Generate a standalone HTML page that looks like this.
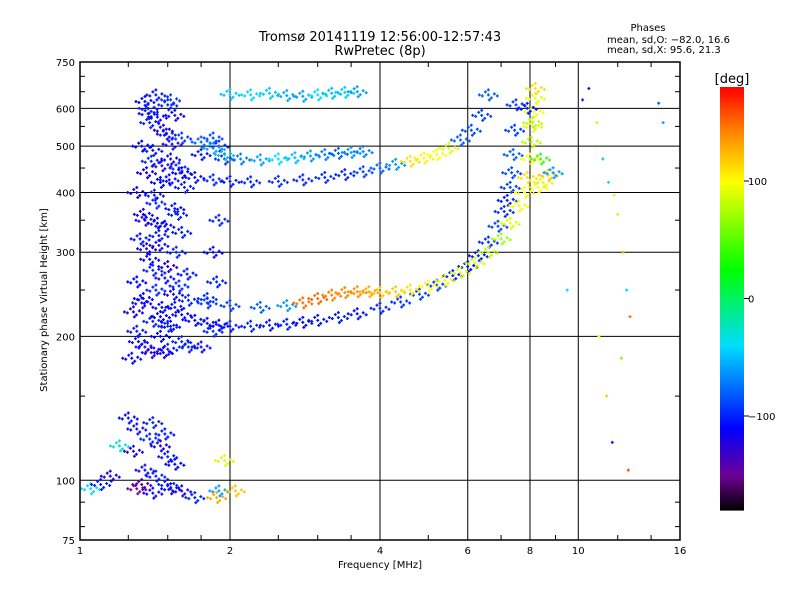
<!DOCTYPE html>
<html><head><meta charset="utf-8"><style>
body{margin:0;background:#fff;}
svg{display:block;font-family:"DejaVu Sans","Liberation Sans",sans-serif;}
</style></head><body>
<svg id="chart" width="800" height="600" viewBox="0 0 800 600">
<rect width="800" height="600" fill="#fff"/>
<text x="380" y="41" text-anchor="middle" font-size="13">Tromsø 20141119 12:56:00-12:57:43</text>
<text x="380" y="55" text-anchor="middle" font-size="13">RwPretec (8p)</text>
<text x="648" y="31" text-anchor="middle" font-size="10">Phases</text>
<text x="607" y="43" font-size="10">mean, sd,O: −82.0, 16.6</text>
<text x="607" y="53" font-size="10">mean, sd,X:  95.6, 21.3</text>
<text x="380" y="568" text-anchor="middle" font-size="10">Frequency [MHz]</text>
<text transform="translate(47,300) rotate(-90)" text-anchor="middle" font-size="10">Stationary phase Virtual Height [km]</text>
<text x="732" y="83" text-anchor="middle" font-size="13">[deg]</text>
<g id="grid"></g><g id="marks"></g><g id="axes"></g><g id="cbar"></g>
</svg>
<script>
// ---- chart data ----
const xTicks = [1, 2, 4, 6, 8, 10, 16];
const yTicks = [75, 100, 200, 300, 400, 500, 600, 750];
const cbarTicks = [100, 0, -100];
const freqMHz = [
1.35,1.42,1.5,1.55,1.38,1.47,1.6,1.33,1.4,1.52,1.58,1.36,1.45,1.62,1.3,1.42,1.55,1.35,1.48,1.6,1.32,1.44,1.56,1.38,1.5,1.64,1.3,1.42,1.54,1.34,1.46,1.28,1.4,1.52,1.3,1.45,1.6,1.35,1.5,1.65,1.75,1.27,1.85,1.8,1.88,1.85,1.9,1.75,1.85,1.9,1.95,
1.37,1.43,1.49,1.53,1.39,1.46,1.41,1.51,1.34,1.57,1.44,1.36,1.48,1.4,1.33,1.55,1.45,1.5,1.39,1.47,1.31,1.43,1.58,1.37,1.52,
1.6,1.7,1.8,1.9,2.0,2.2,2.4,2.6,2.8,3.0,3.3,3.6,4.0,4.4,4.8,5.2,5.6,6.0,6.3,6.6,6.9,7.1,7.2,7.3,7.35,7.4,7.45,7.5,
1.65,1.8,2.0,2.3,2.6,2.8,3.0,3.2,3.4,3.6,3.8,4.0,4.3,4.6,5.0,5.4,5.8,6.2,6.6,7.0,7.3,7.6,7.8,7.9,8.0,8.05,8.1,8.15,8.2,8.2,
1.6,1.7,1.85,2.0,2.2,2.5,2.8,3.1,3.4,3.7,4.0,4.3,4.6,4.9,5.2,5.5,5.8,6.1,6.4,6.6,
1.75,1.85,1.95,2.1,2.3,2.5,2.7,2.9,3.1,3.3,3.5,3.7,
2.0,2.2,2.4,2.6,2.8,3.0,3.2,3.4,3.6,
1.25,1.3,1.38,1.45,1.5,1.55,1.35,1.42,1.28,1.48,1.33,1.52,1.4,1.2,1.9,1.95,
1.05,1.1,1.15,1.3,1.4,1.5,1.6,1.7,1.88,2.05,
8.3,8.5,8.7,8.9,7.9,8.1,8.4,
10.2,10.9,11.2,11.5,11.8,12.0,12.3,12.5,12.7,11.0,11.4,12.2,11.7,12.6,14.5,14.8,10.5,9.5
];
const heightKm = [
620,640,610,580,560,540,520,500,490,470,450,440,420,410,400,380,370,350,340,330,320,310,300,290,280,270,260,250,245,240,230,225,215,210,205,200,195,190,188,190,190,180,205,240,260,300,350,480,520,500,470,
600,575,530,505,465,455,395,425,360,360,325,305,265,275,235,230,220,210,185,185,195,345,255,585,625,
222,216,213,211,210,210,211,212,214,216,219,223,229,236,245,256,268,280,295,315,340,365,385,410,440,480,540,610,
238,235,232,230,232,235,240,244,247,248,248,247,248,250,255,262,272,285,300,320,345,375,400,430,470,510,550,590,630,660,
440,430,425,422,421,422,425,430,436,442,450,458,465,472,480,495,515,540,580,640,
510,495,480,470,468,470,473,477,480,483,485,487,
642,640,645,638,636,640,645,648,650,
135,128,122,118,112,108,105,102,115,125,98,96,132,118,95,110,
96,98,102,96,94,98,95,92,92,95,
410,420,435,440,600,560,470,
625,560,470,420,395,360,300,250,220,200,150,180,120,105,615,560,660,250
];
const phaseDeg = [
-110,-105,-100,-115,-100,-120,-95,-110,-105,-115,-100,-120,-110,-100,-115,-100,-105,-120,-110,-100,-105,-115,-100,-110,-120,-105,-110,-100,-115,-105,-110,-120,-100,-115,-105,-110,-100,-120,-105,-100,-110,-110,-100,-95,-100,-110,-100,-105,-90,-100,-95,
-100,-110,-105,-115,-100,-120,-105,-110,-115,-100,-105,-120,-110,-100,-115,-105,-110,-100,-120,-115,-105,-110,-100,-105,-95,
-110,-110,-105,-110,-105,-100,-105,-100,-110,-105,-100,-105,-100,-95,-90,-95,-100,-105,-100,-95,-90,-95,-100,-90,-85,-80,-90,-95,
-100,-95,-90,-80,-60,150,150,145,140,140,130,120,120,110,100,95,90,85,80,70,90,95,100,110,100,80,90,100,95,110,
-110,-105,-100,-105,-100,-95,-100,-95,-100,-90,-80,-60,110,105,100,90,-80,-85,-90,-80,
-80,-60,-50,-70,-60,-40,-50,-60,-70,-80,-60,-70,
-50,-40,-45,-55,-60,-40,-50,-45,-60,
-110,-115,-100,-120,-105,-110,-115,-100,-120,-105,-140,-110,-100,-30,-60,90,
-40,-100,-120,-150,-110,-100,-120,-100,130,120,
100,90,120,-60,-100,80,40,
-100,110,-50,-40,90,110,130,-40,150,100,120,60,-100,160,-80,-60,-130,-40
];
// ---- scales ----
const X0=80, X1=680, Y0=540, Y1=62;
function xs(f){return X0+(X1-X0)*Math.log(f)/Math.log(16);}
function ys(h){return Y0-(Y0-Y1)*Math.log10(h/75);}
const CB={x:720,w:24,top:87,bot:510,min:-180,max:180};
function cs(v){return CB.bot-(CB.bot-CB.top)*(v-CB.min)/(CB.max-CB.min);}
const stops=[[-180,[0,0,0]],[-150,[110,0,150]],[-110,[0,0,255]],[-40,[0,220,255]],[25,[0,255,0]],[100,[255,255,0]],[140,[255,140,0]],[180,[255,0,0]]];
function color(v){
  v=Math.max(-180,Math.min(180,v));
  for(let i=1;i<stops.length;i++){ if(v<=stops[i][0]){
    const a=stops[i-1],b=stops[i],t=(v-a[0])/(b[0]-a[0]);
    return 'rgb('+a[1].map((c,k)=>Math.round(c+(b[1][k]-c)*t)).join(',')+')';}}
  return 'rgb(255,0,0)';
}
const NS='http://www.w3.org/2000/svg';
function el(tag,attrs,parent){const e=document.createElementNS(NS,tag);for(const k in attrs)e.setAttribute(k,attrs[k]);parent.appendChild(e);return e;}
const grid=document.getElementById('grid'),marks=document.getElementById('marks'),axes=document.getElementById('axes'),cbar=document.getElementById('cbar');
yTicks.forEach(h=>{ if(h===75||h===750) return;
  const l=el('line',{x1:X0,x2:X1,y1:ys(h),y2:ys(h),stroke:'#000','stroke-width':1},grid);
  
  
});
xTicks.forEach(f=>{ if(f===1||f===16) return;
  const l=el('line',{x1:xs(f),x2:xs(f),y1:Y1,y2:Y0,stroke:'#000','stroke-width':1},grid);
  
  
});
// echo markers: each echo drawn as a small cluster of crosses (marker style)
const cluster=[[0,0],[-6,1],[6,-1],[-3,-3],[3,3],[-9,0],[9,1],[0,-5],[1,5]];
for(let i=0;i<freqMHz.length;i++){
  const x=xs(freqMHz[i]),y=ys(heightKm[i]);
  const offs=freqMHz[i]<9.2?cluster:[[0,0]];
  let d='';
  offs.forEach(o=>{const cx=x+o[0],cy=y+o[1];d+=`M${cx-1.5},${cy}h3M${cx},${cy-1.5}v3`;});
  const p=el('path',{d:d,stroke:color(phaseDeg[i]),'stroke-width':1.3},marks);
  
  
}
const fr=el('rect',{x:X0,y:Y1,width:X1-X0,height:Y0-Y1,fill:'none',stroke:'#000','stroke-width':1.5},axes);


const minorX=[1.25,1.5,1.75,2.5,3,3.5,5,7,9,12,14];
minorX.forEach(f=>{el('line',{x1:xs(f),x2:xs(f),y1:Y0,y2:Y0-5,stroke:'#000'},axes);el('line',{x1:xs(f),x2:xs(f),y1:Y1,y2:Y1+5,stroke:'#000'},axes);});
[80,90,150,250,350,450,550,650,700].forEach(h=>{el('line',{x1:X0,x2:X0+5,y1:ys(h),y2:ys(h),stroke:'#000'},axes);el('line',{x1:X1,x2:X1-5,y1:ys(h),y2:ys(h),stroke:'#000'},axes);});
xTicks.forEach(f=>{
  const t=el('text',{x:xs(f),y:554,'text-anchor':'middle','font-size':10},axes);t.textContent=f;
  
  
});
yTicks.forEach(h=>{
  const t=el('text',{x:X0-5,y:ys(h)+4,'text-anchor':'end','font-size':10},axes);t.textContent=h;
  
  
});
for(let v=CB.min;v<CB.max;v+=2){
  el('rect',{x:CB.x,y:cs(v+2),width:CB.w,height:cs(v)-cs(v+2)+0.6,fill:color(v+1)},cbar);
}
const cb=el('rect',{x:CB.x,y:CB.top,width:CB.w,height:CB.bot-CB.top,fill:'none',stroke:'none'},cbar);


cbarTicks.forEach(v=>{
  el('line',{x1:CB.x+CB.w,x2:CB.x+CB.w+5,y1:cs(v),y2:cs(v),stroke:'#000'},cbar);
  const t=el('text',{x:CB.x+CB.w+4,y:cs(v)+4,'font-size':10},cbar);t.textContent=v===0?'0':(v<0?'−'+(-v):v);
  
  
});
</script>
</body></html>
